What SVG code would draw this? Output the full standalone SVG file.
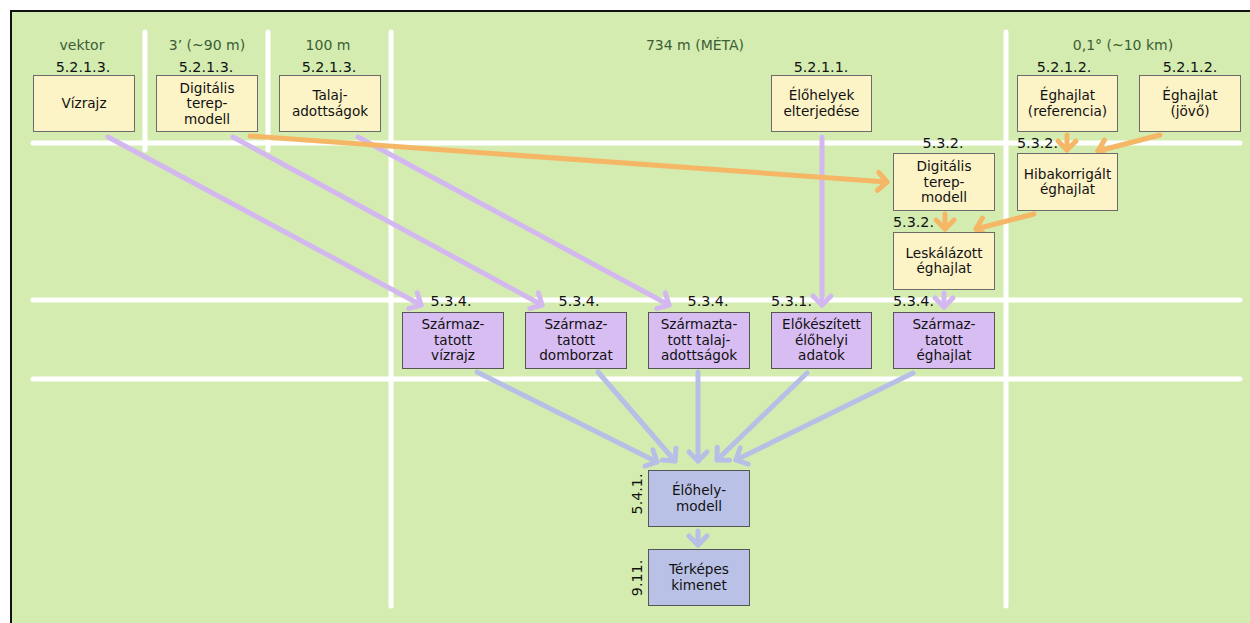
<svg xmlns="http://www.w3.org/2000/svg" width="1250" height="623" viewBox="0 0 1250 623">
<style>
.grid{stroke:#ffffff;stroke-width:5;stroke-linecap:round;fill:none}
.yb{fill:#fcf3c7;stroke:#6b6b6b;stroke-width:1}
.pb{fill:#d8bdf2;stroke:#555555;stroke-width:1}
.bb{fill:#b9c1e6;stroke:#555555;stroke-width:1}
text{font-family:"DejaVu Sans","Verdana",sans-serif}
.t{font-size:13.6px;fill:#111111;text-anchor:middle}
.n{font-size:14.3px;fill:#111111}
.c{text-anchor:middle}
.h{font-size:14px;fill:#3a5e36;text-anchor:middle}
.co{stroke:#f5b766;stroke-width:5;stroke-linecap:round;fill:none;marker-end:url(#ao)}
.cp{stroke:#d3b8f0;stroke-width:5;stroke-linecap:round;fill:none;marker-end:url(#ap)}
.cb{stroke:#b7bfe6;stroke-width:5;stroke-linecap:round;fill:none;marker-end:url(#ab)}
</style>
<defs>
<marker id="ao" markerUnits="userSpaceOnUse" viewBox="-14 -14 28 28" markerWidth="28" markerHeight="28" refX="0" refY="0" orient="auto" overflow="visible"><path d="M-9,-9 L0,0 L-9,9" fill="none" stroke="#f5b766" stroke-width="5" stroke-linecap="round" stroke-linejoin="round"/></marker>
<marker id="ap" markerUnits="userSpaceOnUse" viewBox="-14 -14 28 28" markerWidth="28" markerHeight="28" refX="0" refY="0" orient="auto" overflow="visible"><path d="M-9,-9 L0,0 L-9,9" fill="none" stroke="#d3b8f0" stroke-width="5" stroke-linecap="round" stroke-linejoin="round"/></marker>
<marker id="ab" markerUnits="userSpaceOnUse" viewBox="-14 -14 28 28" markerWidth="28" markerHeight="28" refX="0" refY="0" orient="auto" overflow="visible"><path d="M-9,-9 L0,0 L-9,9" fill="none" stroke="#b7bfe6" stroke-width="5" stroke-linecap="round" stroke-linejoin="round"/></marker>
</defs>
<rect x="0" y="0" width="1250" height="623" fill="#ffffff"/>
<rect x="11" y="11" width="1250" height="620" fill="#d4ecb0" stroke="#111111" stroke-width="2"/>
<g id="grid">
<line class="grid" x1="145" y1="32" x2="145" y2="150"/>
<line class="grid" x1="268" y1="32" x2="268" y2="150"/>
<line class="grid" x1="391" y1="32" x2="391" y2="606"/>
<line class="grid" x1="1006" y1="32" x2="1006" y2="606"/>
<line class="grid" x1="33" y1="143" x2="1240" y2="143"/>
<line class="grid" x1="33" y1="300" x2="1240" y2="300"/>
<line class="grid" x1="33" y1="379" x2="1240" y2="379"/>
</g>
<g id="headers">
<text class="h" x="82" y="50">vektor</text>
<text class="h" x="207" y="50">3’ (~90 m)</text>
<text class="h" x="328" y="50">100 m</text>
<text class="h" x="695" y="50">734 m (MÉTA)</text>
<text class="h" x="1123" y="50">0,1° (~10 km)</text>
</g>
<g id="connectors">
<line class="cp" x1="108" y1="137" x2="421" y2="305"/>
<line class="cp" x1="233" y1="137" x2="542" y2="305"/>
<line class="cp" x1="358" y1="137" x2="669" y2="305"/>
<line class="cp" x1="822" y1="137" x2="822" y2="305"/>
<line class="cp" x1="944" y1="293" x2="944" y2="307"/>
<line class="co" x1="250" y1="136" x2="887" y2="182"/>
<line class="co" x1="1067" y1="135" x2="1067" y2="150"/>
<line class="co" x1="1160" y1="135" x2="1098" y2="151"/>
<line class="co" x1="945" y1="214" x2="945" y2="229"/>
<line class="co" x1="1034" y1="214" x2="976" y2="229"/>
<line class="cb" x1="477" y1="372" x2="657" y2="462"/>
<line class="cb" x1="598" y1="372" x2="675" y2="461"/>
<line class="cb" x1="698" y1="372" x2="698" y2="461"/>
<line class="cb" x1="807" y1="373" x2="717" y2="460"/>
<line class="cb" x1="913" y1="373" x2="736" y2="460"/>
<line class="cb" x1="698" y1="531" x2="698" y2="545"/>
</g>
<g id="n-vizrajz">
<text class="n c" x="83" y="72">5.2.1.3.</text>
<rect class="yb" x="33.5" y="75.5" width="101" height="56"/>
<text class="t" x="84" y="108">Vízrajz</text>
</g>
<g id="n-dtm1">
<text class="n c" x="206" y="72">5.2.1.3.</text>
<rect class="yb" x="156.5" y="75.5" width="101" height="56"/>
<text class="t" x="207" y="92.5">Digitális</text>
<text class="t" x="207" y="108">terep-</text>
<text class="t" x="207" y="123.5">modell</text>
</g>
<g id="n-talaj">
<text class="n c" x="329" y="72">5.2.1.3.</text>
<rect class="yb" x="279.5" y="75.5" width="101" height="56"/>
<text class="t" x="330" y="100.3">Talaj-</text>
<text class="t" x="330" y="115.8">adottságok</text>
</g>
<g id="n-elohelyek">
<text class="n c" x="821" y="72">5.2.1.1.</text>
<rect class="yb" x="771.5" y="75.5" width="100" height="56"/>
<text class="t" x="821.5" y="100.3">Élőhelyek</text>
<text class="t" x="821.5" y="115.8">elterjedése</text>
</g>
<g id="n-eghajlat-ref">
<text class="n c" x="1064" y="72">5.2.1.2.</text>
<rect class="yb" x="1017.5" y="75.5" width="100" height="56"/>
<text class="t" x="1067.5" y="100.3">Éghajlat</text>
<text class="t" x="1067.5" y="115.8">(referencia)</text>
</g>
<g id="n-eghajlat-jovo">
<text class="n c" x="1190" y="72">5.2.1.2.</text>
<rect class="yb" x="1139.5" y="75.5" width="101" height="56"/>
<text class="t" x="1190" y="100.3">Éghajlat</text>
<text class="t" x="1190" y="115.8">(jövő)</text>
</g>
<g id="n-dtm2">
<text class="n c" x="943" y="148">5.3.2.</text>
<rect class="yb" x="893.5" y="153.5" width="101" height="57"/>
<text class="t" x="944" y="171">Digitális</text>
<text class="t" x="944" y="186.5">terep-</text>
<text class="t" x="944" y="202">modell</text>
</g>
<g id="n-hibakorrigalt">
<text class="n" x="1017" y="148">5.3.2.</text>
<rect class="yb" x="1017.5" y="153.5" width="100" height="57"/>
<text class="t" x="1067.5" y="178.7">Hibakorrigált</text>
<text class="t" x="1067.5" y="194.2">éghajlat</text>
</g>
<g id="n-leskalazott">
<text class="n" x="893" y="227">5.3.2.</text>
<rect class="yb" x="893.5" y="232.5" width="101" height="57"/>
<text class="t" x="944" y="257.7">Leskálázott</text>
<text class="t" x="944" y="273.2">éghajlat</text>
</g>
<g id="n-sz-vizrajz">
<text class="n c" x="451" y="306">5.3.4.</text>
<rect class="pb" x="402.5" y="312.5" width="101" height="56"/>
<text class="t" x="453" y="329">Származ-</text>
<text class="t" x="453" y="344.5">tatott</text>
<text class="t" x="453" y="360">vízrajz</text>
</g>
<g id="n-sz-domborzat">
<text class="n c" x="579" y="306">5.3.4.</text>
<rect class="pb" x="525.5" y="312.5" width="101" height="56"/>
<text class="t" x="576" y="329">Származ-</text>
<text class="t" x="576" y="344.5">tatott</text>
<text class="t" x="576" y="360">domborzat</text>
</g>
<g id="n-sz-talaj">
<text class="n c" x="708" y="306">5.3.4.</text>
<rect class="pb" x="648.5" y="312.5" width="101" height="56"/>
<text class="t" x="699" y="329">Származta-</text>
<text class="t" x="699" y="344.5">tott talaj-</text>
<text class="t" x="699" y="360">adottságok</text>
</g>
<g id="n-elokeszitett">
<text class="n" x="771" y="306">5.3.1.</text>
<rect class="pb" x="771.5" y="312.5" width="100" height="56"/>
<text class="t" x="821.5" y="329">Előkészített</text>
<text class="t" x="821.5" y="344.5">élőhelyi</text>
<text class="t" x="821.5" y="360">adatok</text>
</g>
<g id="n-sz-eghajlat">
<text class="n" x="893" y="306">5.3.4.</text>
<rect class="pb" x="893.5" y="312.5" width="101" height="56"/>
<text class="t" x="944" y="329">Származ-</text>
<text class="t" x="944" y="344.5">tatott</text>
<text class="t" x="944" y="360">éghajlat</text>
</g>
<g id="n-elohely-modell">
<text class="n c" transform="translate(642,494) rotate(-90)">5.4.1.</text>
<rect class="bb" x="648.5" y="470.5" width="101" height="56"/>
<text class="t" x="699" y="495">Élőhely-</text>
<text class="t" x="699" y="510.5">modell</text>
</g>
<g id="n-terkepes">
<text class="n c" transform="translate(642,578) rotate(-90)">9.11.</text>
<rect class="bb" x="648.5" y="549.5" width="101" height="56"/>
<text class="t" x="699" y="574">Térképes</text>
<text class="t" x="699" y="589.5">kimenet</text>
</g>
</svg>
